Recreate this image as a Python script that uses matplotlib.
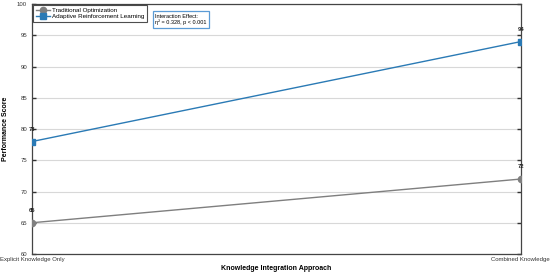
import matplotlib
matplotlib.use("Agg")
import matplotlib.pyplot as plt

plt.rcParams['font.family'] = ['Liberation Sans', 'DejaVu Sans']

categories = ["Explicit Knowledge Only", "Combined Knowledge"]
traditional = [65, 72]
adaptive = [78, 94]
series_names = ["Traditional Optimization", "Adaptive Reinforcement Learning"]

fig = plt.figure(figsize=(5.5, 2.74), dpi=100)
ax = fig.add_axes([0.058, 0.073, 0.889, 0.912])

x = list(range(len(categories)))
ax.plot(x, traditional, color='#7f7f7f', marker='o', markersize=4.5, linewidth=1.0,
        label=series_names[0], zorder=3)
ax.plot(x, adaptive, color='#2a7ab5', marker='s', markersize=4, linewidth=1.0,
        label=series_names[1], zorder=3)

for xs, vals in [(x, traditional), (x, adaptive)]:
    for xi, v in zip(xs, vals):
        ax.text(xi, v + 1.6, f"{v}", ha='center', va='bottom', fontsize=4.2,
                fontweight='bold', color='#222222')

ax.set_xlim(0, 1)
ax.set_ylim(60, 100)
ax.set_yticks(range(60, 101, 5))
ax.set_xticks(x)
ax.set_xticklabels(categories)
ax.tick_params(axis='both', labelsize=4.3, direction='in', width=1.0, length=3,
               right=True, colors='#333333')
ax.tick_params(axis='x', length=0, pad=2.5)
ax.yaxis.grid(True, color='#d8d8d8', linewidth=0.8, linestyle='-')
for s in ax.spines.values():
    s.set_color('#444444')
    s.set_linewidth(0.9)

ax.set_xlabel("Knowledge Integration Approach", fontsize=5, fontweight='bold', labelpad=2)
ax.set_ylabel("Performance Score", fontsize=5, fontweight='bold', labelpad=6)

leg = ax.legend(loc='upper left', fontsize=4.5, frameon=True, fancybox=False,
                edgecolor='#222222', borderpad=0.4, handlelength=2.2, handletextpad=0.4,
                labelspacing=0.1, borderaxespad=0, bbox_to_anchor=(0.003, 0.995))
leg.get_frame().set_linewidth(0.8)

ax.text(0.252, 0.962, "Interaction Effect:\nη² = 0.328, p < 0.001", transform=ax.transAxes,
        fontsize=4.0, va='top', ha='left',
        bbox=dict(boxstyle='square,pad=0.45', facecolor='white', edgecolor='#5b9bd5', linewidth=0.9))

fig.savefig("out.png", dpi=100)
